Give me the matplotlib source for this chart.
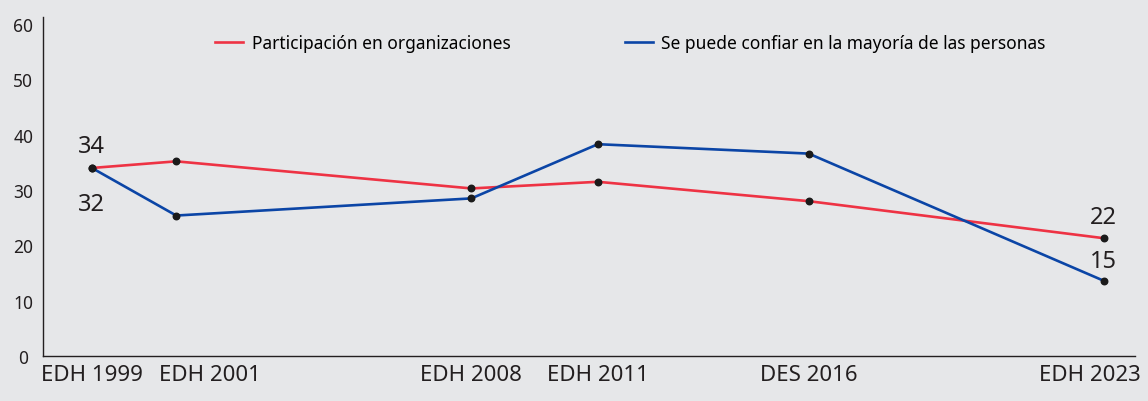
import numpy as np
import matplotlib.pyplot as plt
from matplotlib.transforms import ScaledTranslation

plt.rcParams['font.family'] = ['Noto Sans', 'DejaVu Sans']

# survey rounds
years = [1999, 2001, 2008, 2011, 2016, 2023]
tick_labels = ['EDH 1999', 'EDH 2001', 'EDH 2008', 'EDH 2011', 'DES 2016', 'EDH 2023']

participacion = [34.0, 35.2, 30.3, 31.5, 28.0, 21.3]
confianza = [34.0, 25.4, 28.5, 38.3, 36.6, 13.6]

name_part = 'Participación en organizaciones'
name_conf = 'Se puede confiar en la mayoría de las personas'

# end labels as printed on the chart
labels_part = {1999: '34', 2023: '22'}
labels_conf = {1999: '32', 2023: '15'}

bg = '#e6e7e9'
red = '#ee3344'
blue = '#0b45a6'
ink = '#231f20'

fig = plt.figure(figsize=(11.48, 4.02), dpi=100, facecolor=bg)
ax = fig.add_axes([43/1148, 1-357/402, (1135-43)/1148, (357-18)/402], facecolor=bg)

ax.plot(years, participacion, color=red, lw=1.9, label=name_part, zorder=2)
ax.plot(years, confianza, color=blue, lw=1.9, label=name_conf, zorder=2)
ax.scatter(years, participacion, color='#1a1a1a', s=22, zorder=3)
ax.scatter(years, confianza, color='#1a1a1a', s=22, zorder=3)

# value labels
ax.annotate(labels_part[1999], (years[0], participacion[0]), xytext=(0, 16),
            textcoords='offset points', ha='center', va='center', fontsize=17, color=ink)
ax.annotate(labels_conf[1999], (years[0], confianza[0]), xytext=(0, -26),
            textcoords='offset points', ha='center', va='center', fontsize=17, color=ink)
ax.annotate(labels_part[2023], (years[-1], participacion[-1]), xytext=(0, 15),
            textcoords='offset points', ha='center', va='center', fontsize=17, color=ink)
ax.annotate(labels_conf[2023], (years[-1], confianza[-1]), xytext=(0, 14),
            textcoords='offset points', ha='center', va='center', fontsize=17, color=ink)

ax.set_xlim(1997.84, 2023.74)
ax.set_ylim(0, 61.3)
ax.set_yticks(range(0, 61, 10))
ax.set_xticks(years)
ax.set_xticklabels(tick_labels)
ax.tick_params(axis='y', length=0, pad=12, labelsize=12.5, labelcolor=ink)
ax.tick_params(axis='x', length=0, pad=6, labelsize=16, labelcolor=ink)
for lab in ax.get_yticklabels():
    lab.set_horizontalalignment('center')
    lab.set_transform(lab.get_transform() + ScaledTranslation(-3/100, 0, fig.dpi_scale_trans))
# nudge crowded/edge labels like the original
xl = ax.get_xticklabels()
xl[1].set_transform(xl[1].get_transform() + ScaledTranslation(34/100, 0, fig.dpi_scale_trans))
xl[-1].set_transform(xl[-1].get_transform() + ScaledTranslation(-14/100, 0, fig.dpi_scale_trans))

for side in ['top', 'right']:
    ax.spines[side].set_visible(False)
for side in ['left', 'bottom']:
    ax.spines[side].set_color(ink)
    ax.spines[side].set_linewidth(1.0)

ax.legend(loc='center', bbox_to_anchor=(0.538, 0.922), ncol=2, frameon=False,
          fontsize=12.5, handlelength=1.6, handletextpad=0.5, columnspacing=6.6)

fig.savefig('out.png', dpi=100, facecolor=bg)
